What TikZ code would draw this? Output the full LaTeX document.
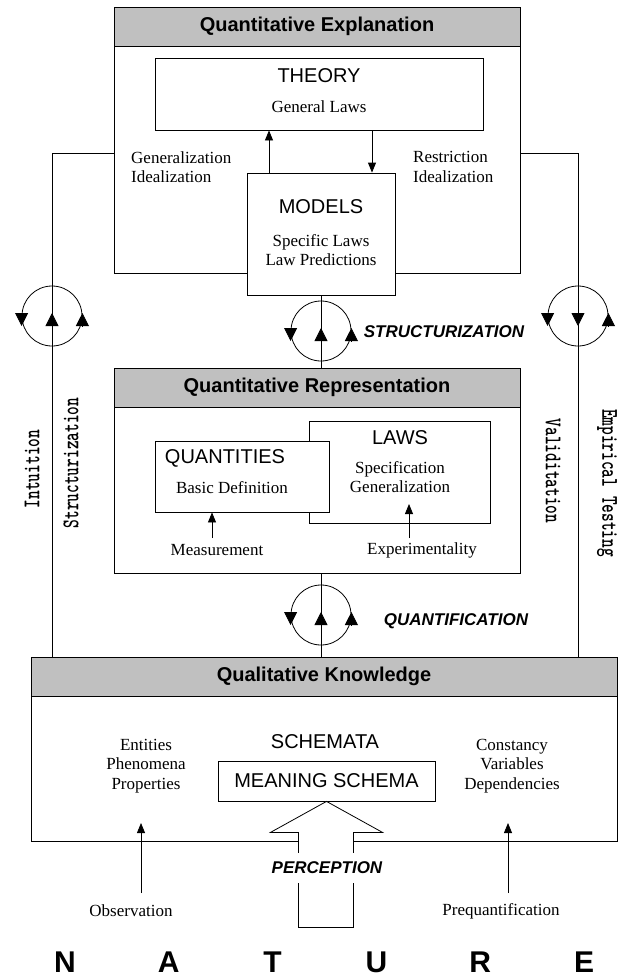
\documentclass[tikz,border=0pt]{standalone}
\usepackage{fontspec}
\setmainfont{Liberation Serif}
\setsansfont{Liberation Sans}
\usepackage{tikz}
\usetikzlibrary{arrows.meta,shapes,calc}
\usetikzlibrary{positioning}
\definecolor{headgray}{RGB}{192,192,192}
\tikzstyle{line}=[draw,line width=0.8pt]
\tikzstyle{arrow}=[draw,-{Triangle[width=8pt,length=10pt]},line width=0.8pt]
\tikzstyle{bighead}=[-{Triangle[width=13pt,length=13pt]},line width=0.8pt]
\tikzstyle{panel} =
  [rectangle, draw, line width=0.8pt, minimum width=406pt, inner sep=0pt]
\tikzstyle{header} =
  [rectangle, draw, fill=headgray, line width=0.8pt, minimum height=39pt,
   font=\sffamily\bfseries\fontsize{20}{24}\selectfont]
\tikzstyle{block} =
  [rectangle, draw, fill=white, line width=0.8pt, inner sep=0pt]
\tikzstyle{title}=[font=\sffamily\fontsize{20}{24}\selectfont, inner sep=0pt]
\tikzstyle{plain}=[font=\fontsize{17}{19.5}\selectfont, align=center, inner sep=0pt]
\tikzstyle{stage}=[font=\sffamily\bfseries\itshape\fontsize{17}{20}\selectfont, inner sep=0pt]
\tikzstyle{spin}=[circle, draw, line width=0.8pt, minimum size=60pt, inner sep=0pt]
\tikzstyle{nature}=[font=\sffamily\bfseries\fontsize{30}{36}\selectfont, inner sep=0pt]
\newcommand{\vtext}[1]{\scalebox{0.69}[1]{\ttfamily\bfseries\fontsize{24}{24}\selectfont #1}}

\begin{document}
\begin{tikzpicture}[x=1pt, y=1pt, node distance=20pt]
  \useasboundingbox (0,0) rectangle (621,-977);

  % quantitative explanation
  \node [panel, minimum height=266pt] (qe) at (317,-140) {};
  \node [header, minimum width=406pt, anchor=north] (qehead) at (qe.north) {Quantitative Explanation};
  \node [block, minimum width=328pt, minimum height=72pt] (theory) at (319,-94) {};
  \node [title] (theorytitle) at (319,-76) {THEORY};
  \node [plain, below of=theorytitle, node distance=31pt] (theorytext) {General Laws};
  \node [block, minimum width=148pt, minimum height=122pt] (models) at (321,-234) {};
  \node [title] (modelstitle) at (321,-207) {MODELS};
  \node [plain, below of=modelstitle, node distance=43pt] (modelstext) {Specific Laws\\Law Predictions};
  \coordinate (genfoot) at (269,-173);
  \coordinate (resttop) at (372,-130);
  \draw [arrow] (genfoot) to (genfoot |- theory.south);
  \draw [arrow] (resttop) to (resttop |- models.north);
  \node [plain, align=left, anchor=west] (genlabel) at (131,-167) {Generalization\\Idealization};
  \node [plain, align=left, anchor=west] (restlabel) at (413,-167) {Restriction\\Idealization};

  % quantitative representation
  \node [panel, minimum height=205pt] (qr) at (317,-470.5) {};
  \node [header, minimum width=406pt, anchor=north] (qrhead) at (qr.north) {Quantitative Representation};
  \node [block, minimum width=181pt, minimum height=102pt] (laws) at (399.5,-472) {};
  \node [block, minimum width=174pt, minimum height=71pt] (quant) at (242,-476.5) {};
  \node [title] (lawstitle) at (400,-438) {LAWS};
  \node [plain, below of=lawstitle, node distance=39pt] (lawstext) {Specification\\Generalization};
  \node [title] (quanttitle) at (225,-458) {QUANTITIES};
  \node [plain, below of=quanttitle, node distance=30pt, xshift=7pt] (quanttext) {Basic Definition};
  \node [plain] (measure) at (217,-550) {Measurement};
  \node [plain] (expmt) at (422,-550) {Experimentality};
  \coordinate (meastail) at (212,-538);
  \coordinate (exptail) at (409,-538);
  \coordinate (exptip) at (409,-504);
  \draw [arrow] (meastail) to (meastail |- quant.south);
  \draw [arrow] (exptail) to (exptip);

  % qualitative knowledge
  \node [panel, minimum width=586pt, minimum height=184pt] (qk) at (324,-749) {};
  \node [header, minimum width=586pt, anchor=north] (qkhead) at (qk.north) {Qualitative Knowledge};
  \node [plain] (entities) at (146,-766) {Entities\\Phenomena\\Properties};
  \node [plain] (constancy) at (512,-766) {Constancy\\Variables\\Dependencies};
  \node [title] (schemata) at (325,-742) {SCHEMATA};
  \node [block, title, minimum width=217pt, minimum height=40pt] (meaning) at (326.5,-781) {MEANING SCHEMA};
  \draw [line, fill=white] (meaning.south) -- ++(56,-31) -- ++(-29,0) -- ++(0,-95)
    -- ++(-55,0) -- ++(0,95) -- ++(-28,0) -- cycle;
  \node [stage, fill=white, inner xsep=3pt, inner ysep=9pt] (perception) at (327,-868) {PERCEPTION};
  \node [plain] (observation) at (131,-911) {Observation};
  \node [plain] (prequant) at (501,-911) {Prequantification};
  \coordinate (obstail) at (141,-893);
  \coordinate (pretail) at (508,-893);
  \draw [arrow] (obstail) to ++(0,70);
  \draw [arrow] (pretail) to ++(0,70);

  % side loops
  \coordinate (lefttop) at (52,-153);
  \coordinate (righttop) at (578,-153);
  \draw [line] (qe.west |- lefttop) -- (lefttop) -- (lefttop |- qk.north);
  \draw [line] (qe.east |- righttop) -- (righttop) -- (righttop |- qk.north);
  \node [spin] (lspin) at (52,-316) {};
  \node [spin] (rspin) at (578,-316) {};
  \draw [bighead] ([yshift=3pt]lspin.west) -- ([yshift=-10pt]lspin.west);
  \draw [bighead] ([yshift=-10pt]lspin.center) -- ([yshift=3pt]lspin.center);
  \draw [bighead] ([yshift=-10pt]lspin.east) -- ([yshift=3pt]lspin.east);
  \draw [bighead] ([yshift=3pt]rspin.west) -- ([yshift=-10pt]rspin.west);
  \draw [bighead] ([yshift=3pt]rspin.center) -- ([yshift=-10pt]rspin.center);
  \draw [bighead] ([yshift=-10pt]rspin.east) -- ([yshift=3pt]rspin.east);

  \node [rotate=90] (intuition) at (32,-469) {\vtext{Intuition}};
  \node [rotate=90] (struct) at (71,-463) {\vtext{Structurization}};
  \node [rotate=-90] (valid) at (553,-471) {\vtext{Validitation}};
  \node [rotate=-90] (empir) at (607,-483) {\vtext{Empirical Testing}};

  % middle loops
  \draw [line] (models.south) -- (models.south |- qr.north);
  \node [spin] (mspin) at (models.south |- 0,-331) {};
  \draw [line] (qr.south -| mspin) -- (qk.north -| mspin);
  \node [spin] (qspin) at (mspin |- 0,-615) {};
  \foreach \s in {mspin,qspin} {
    \draw [bighead] ([yshift=3pt]\s.west) -- ([yshift=-10pt]\s.west);
    \draw [bighead] ([yshift=-10pt]\s.center) -- ([yshift=3pt]\s.center);
    \draw [bighead] ([yshift=-10pt]\s.east) -- ([yshift=3pt]\s.east);
  }
  \node [stage] (structlabel) at (444,-332) {STRUCTURIZATION};
  \node [stage] (quantlabel) at (456,-621) {QUANTIFICATION};

  % nature
  \foreach \ch [count=\i from 0] in {N,A,T,U,R,E}
    \node [nature] (n\i) at ({65+103.8*\i},-962) {\ch};
\end{tikzpicture}
\end{document}
